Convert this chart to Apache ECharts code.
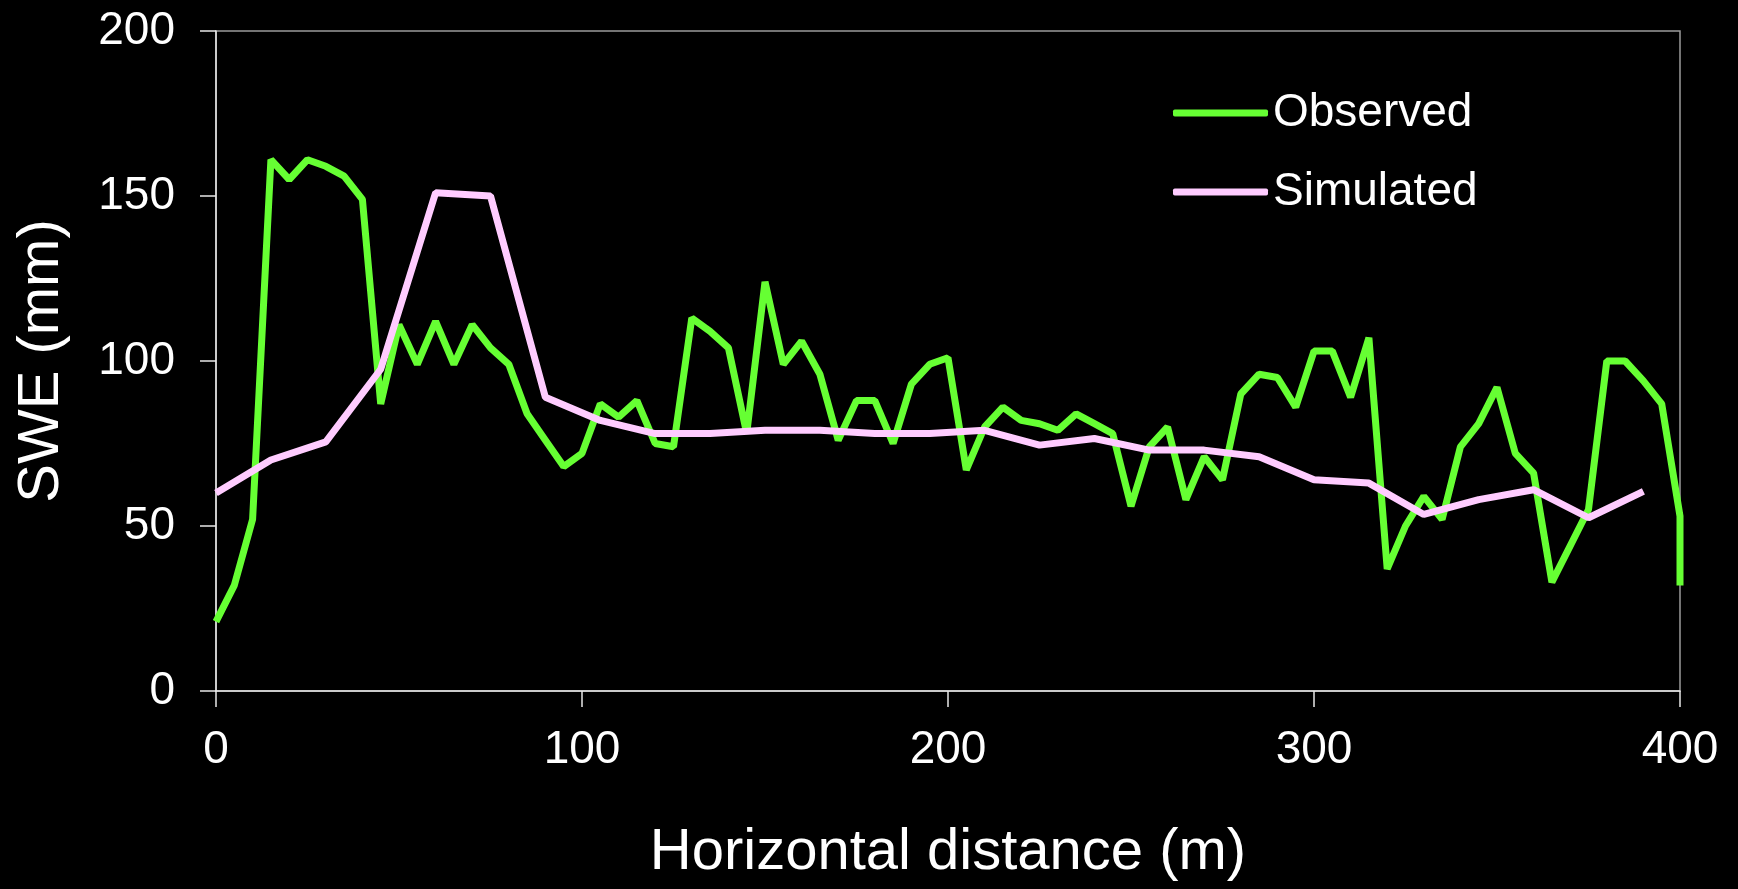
<!DOCTYPE html>
<html>
<head>
<meta charset="utf-8">
<title>SWE profile</title>
<script src="https://cdn.jsdelivr.net/npm/echarts@6/dist/echarts.min.js"></script>
<style>
  html, body {
    margin: 0;
    padding: 0;
    background: #000;
  }
  #chart {
    width: 1738px;
    height: 889px;
  }
</style>
</head>
<body>
<div id="chart"></div>
<script>
// 观测值 (every 5 m)
const obsDist = [0, 5, 10, 15, 20, 25, 30, 35, 40, 45,
  50, 55, 60, 65, 70, 75, 80, 85, 90, 95,
  100, 105, 110, 115, 120, 125, 130, 135, 140, 145,
  150, 155, 160, 165, 170, 175, 180, 185, 190, 195,
  200, 205, 210, 215, 220, 225, 230, 235, 240, 245,
  250, 255, 260, 265, 270, 275, 280, 285, 290, 295,
  300, 305, 310, 315, 320, 325, 330, 335, 340, 345,
  350, 355, 360, 365, 370, 375, 380, 385, 390, 395,
  400, 400];
const obsSwe = [21, 32, 52, 161, 155, 161, 159, 156, 149, 87,
  111, 99, 112, 99, 111, 104, 99, 84, 76, 68,
  72, 87, 83, 88, 75, 74, 113, 109, 104, 78,
  124, 99, 106, 96, 76, 88, 88, 75, 93, 99,
  101, 67, 80, 86, 82, 81, 79, 84, 81, 78,
  56, 74, 80, 58, 71, 64, 90, 96, 95, 86,
  103, 103, 89, 107, 37, 50, 59, 52, 74, 81,
  92, 72, 66, 33, 44, 55, 100, 100, 94, 87,
  53, 32];

// 模拟值 (every 15 m)
const simDist = [0, 15, 30, 45, 60, 75, 90, 105, 120, 135, 150, 165, 180, 195,
  210, 225, 240, 255, 270, 285, 300, 315, 330, 345, 360, 375, 390];
const simSwe = [60, 70, 75.5, 97.5, 151, 150, 89, 82, 78, 78, 79, 79, 78, 78,
  79, 74.5, 76.5, 73, 73, 71, 64, 63, 53.5, 58, 61, 52.5, 60.5];

const xTicks = [0, 100, 200, 300, 400];
const yTicks = [0, 50, 100, 150, 200];

const font = 'Liberation Sans, Arial, sans-serif';

const chart = echarts.init(document.getElementById('chart'));
const option = {
  backgroundColor: '#000',
  animation: false,
  grid: {
    left: 216,
    top: 31,
    right: 58,
    bottom: 198,
    show: true,
    borderColor: '#9a9a9a',
    borderWidth: 1.5,
  },
  legend: {
    orient: 'vertical',
    left: 1168,
    top: 85,
    icon: 'roundRect',
    itemWidth: 95,
    itemHeight: 7,
    itemGap: 33,
    textStyle: {
      color: '#fff',
      fontSize: 46,
      fontFamily: font,
      lineHeight: 46,
    },
    data: ['Observed', 'Simulated'],
  },
  xAxis: {
    type: 'value',
    min: xTicks[0],
    max: xTicks[xTicks.length - 1],
    interval: 100,
    name: 'Horizontal distance (m)',
    nameLocation: 'middle',
    nameGap: 133,
    nameTextStyle: { color: '#fff', fontSize: 58, fontFamily: font },
    axisLine: { onZero: false, lineStyle: { color: '#e8e8e8', width: 1.5 } },
    axisTick: { show: true, inside: false, length: 16, lineStyle: { color: '#e8e8e8', width: 1.5 } },
    axisLabel: { color: '#fff', fontSize: 46, fontFamily: font, margin: 36 },
    splitLine: { show: false },
  },
  yAxis: {
    type: 'value',
    min: yTicks[0],
    max: yTicks[yTicks.length - 1],
    interval: 50,
    name: 'SWE (mm)',
    nameLocation: 'middle',
    nameGap: 145,
    nameTextStyle: { color: '#fff', fontSize: 58, fontFamily: font },
    axisLine: { show: true, lineStyle: { color: '#e8e8e8', width: 1.5 } },
    axisTick: { show: true, inside: false, length: 16, lineStyle: { color: '#e8e8e8', width: 1.5 } },
    axisLabel: { color: '#fff', fontSize: 46, fontFamily: font, margin: 41 },
    splitLine: { show: false },
  },
  series: [
    {
      name: 'Observed',
      type: 'line',
      symbol: 'none',
      clip: true,
      color: '#66ff33',
      lineStyle: { color: '#66ff33', width: 7 },
      data: obsDist.map((d, i) => [d, obsSwe[i]]),
      z: 2,
    },
    {
      name: 'Simulated',
      type: 'line',
      symbol: 'none',
      clip: true,
      color: '#ffccff',
      lineStyle: { color: '#ffccff', width: 7 },
      data: simDist.map((d, i) => [d, simSwe[i]]),
      z: 3,
    },
  ],
};
chart.setOption(option);
</script>
</body>
</html>
